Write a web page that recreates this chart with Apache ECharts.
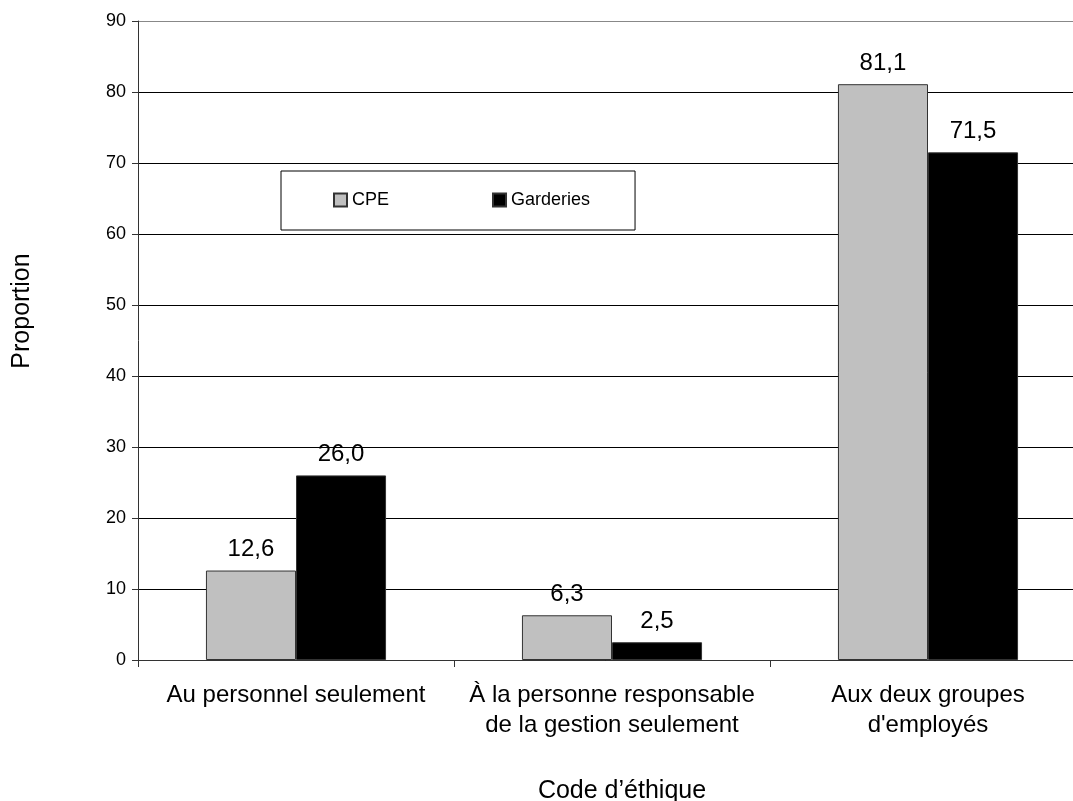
<!DOCTYPE html>
<html>
<head>
<meta charset="utf-8">
<script src="https://cdn.jsdelivr.net/npm/echarts@6/dist/echarts.min.js"></script>
<style>html,body{margin:0;padding:0;background:#fff}#c{width:1073px;height:801px}</style>
</head>
<body>
<div id="c"></div>
<script>
const categories = ["Au personnel seulement", "À la personne responsable\nde la gestion seulement", "Aux deux groupes\nd'employés"];
const seriesNames = ["CPE", "Garderies"];
const cpeValues = [12.6, 6.3, 81.1];
const garderiesValues = [26.0, 2.5, 71.5];
const yTicks = [0, 10, 20, 30, 40, 50, 60, 70, 80, 90];
const xTitle = "Code d’éthique";
const yTitle = "Proportion";

const font = "Liberation Sans, Arial, sans-serif";
const fmt = p => p.value.toFixed(1).replace('.', ',');
const gridColors = yTicks.map((t, i) => i === yTicks.length - 1 ? '#888' : '#000');
const chart = echarts.init(document.getElementById('c'), null, {renderer: 'canvas'});
chart.setOption({
  animation: false,
  backgroundColor: '#fff',
  textStyle: {fontFamily: font},
  grid: {left: 138, top: 21, width: 948, height: 639, containLabel: false, outerBoundsMode: 'none'},
  legend: {
    left: 281, top: 171,
    padding: [20, 45, 21, 52],
    borderColor: '#000', borderWidth: 1, backgroundColor: '#fff',
    itemWidth: 13, itemHeight: 13, itemGap: 103,
    icon: 'rect',
    textStyle: {fontSize: 18, color: '#000', fontFamily: font},
    data: seriesNames
  },
  xAxis: {
    type: 'category',
    data: categories,
    axisLine: {lineStyle: {color: '#333', width: 1}},
    axisTick: {show: true, length: 7, interval: 0, lineStyle: {color: '#333'}},
    axisLabel: {fontSize: 24, color: '#000', lineHeight: 30, margin: 20, interval: 0, hideOverlap: false, fontFamily: font}
  },
  yAxis: {
    type: 'value', min: yTicks[0], max: yTicks[yTicks.length - 1], interval: 10,
    axisLine: {show: true, lineStyle: {color: '#333', width: 1}},
    axisTick: {show: true, length: 6, lineStyle: {color: '#333'}},
    axisLabel: {fontSize: 18, color: '#000', margin: 12, fontFamily: font},
    splitLine: {show: true, lineStyle: {color: gridColors, width: 1}}
  },
  graphic: [
    {type: 'text', x: 622, y: 791, style: {text: xTitle, fontSize: 25, fill: '#000', fontFamily: font, align: 'center', verticalAlign: 'middle'}},
    {type: 'text', x: 22, y: 311, rotation: Math.PI / 2, style: {text: yTitle, fontSize: 25, fill: '#000', fontFamily: font, align: 'center', verticalAlign: 'middle'}}
  ],
  series: [
    {
      name: seriesNames[0], type: 'bar', data: cpeValues,
      barGap: '0%', barCategoryGap: '43%',
      itemStyle: {color: '#c0c0c0', borderColor: '#333', borderWidth: 1},
      label: {show: true, position: 'top', distance: 9, fontSize: 24, color: '#000', fontFamily: font, formatter: fmt}
    },
    {
      name: seriesNames[1], type: 'bar', data: garderiesValues,
      barGap: '0%', barCategoryGap: '43%',
      itemStyle: {color: '#000', borderColor: '#333', borderWidth: 1},
      label: {show: true, position: 'top', distance: 9, fontSize: 24, color: '#000', fontFamily: font, formatter: fmt}
    }
  ]
});
</script>
</body>
</html>
